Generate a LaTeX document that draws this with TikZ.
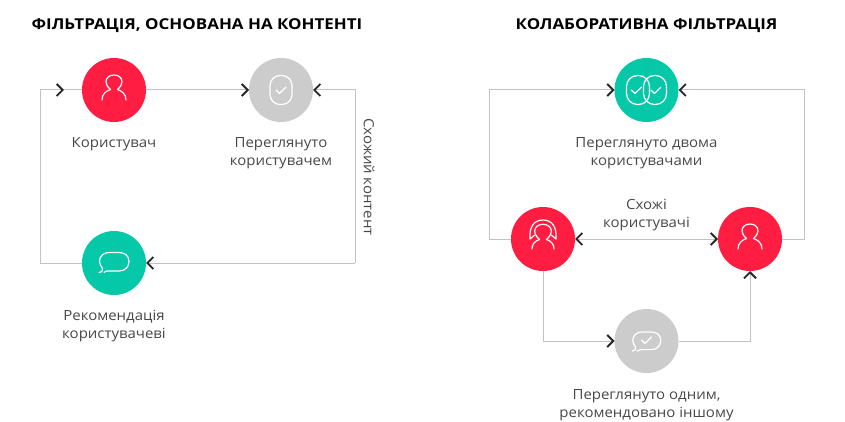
\documentclass[tikz,border=0pt]{standalone}
\usepackage{fontspec}
\setmainfont[FakeStretch=1.07]{Open Sans}
\newfontfamily\headfont[FakeStretch=1.13]{Open Sans}
\usepackage{xcolor}
\usetikzlibrary{arrows.meta}
\definecolor{redc}{HTML}{FF1E42}
\definecolor{tealc}{HTML}{05C8A8}
\definecolor{grayc}{HTML}{CCCCCC}
\definecolor{linec}{HTML}{C2C2C2}
\definecolor{tipc}{HTML}{262626}
\definecolor{textc}{HTML}{484848}
\tikzset{
  disc/.style={circle,minimum size=64pt,inner sep=0pt,outer sep=0pt},
  link/.style={draw=linec,line width=1pt},
  tip/.style={-{Straight Barb[length=6pt,width=12pt,line width=1.8pt,color=tipc]}},
  tipboth/.style={{Straight Barb[length=6pt,width=12pt,line width=1.8pt,color=tipc]}-{Straight Barb[length=6pt,width=12pt,line width=1.8pt,color=tipc]}},
  txt/.style={align=center,text=textc,font=\fontsize{14}{17.5}\selectfont},
  head/.style={align=center,text=black,font=\headfont\fontsize{15}{17}\selectfont\bfseries},
  ico/.style={draw=white,line width=1.2pt,line cap=round,line join=round},
  personicon/.pic={
    \draw[ico] (-3.5,-0.5) .. controls (-6.5,-3) and (-8,-6) .. (-8,-8) .. controls (-8,-12.5) and (-4.5,-15) .. (0,-15) .. controls (4.5,-15) and (8,-12.5) .. (8,-8) .. controls (8,-6) and (6.5,-3) .. (3.5,-0.5);
    \draw[ico] (-12,10) .. controls (-12,4) and (-8,1) .. (-3.5,-0.5);
    \draw[ico] (12,10) .. controls (12,4) and (8,1) .. (3.5,-0.5);
  },
  checkicon/.pic={
    \draw[ico] (-5,0) -- (-1.5,3.5) -- (5,-3);
  },
  shieldicon/.pic={
    \draw[ico,rounded corners=10pt] (-11,-14.5) rectangle (11,14.5);
    \pic at (0,0) {checkicon};
  },
  bubbleicon/.pic={
    \draw[ico] (-15,9.5) .. controls (-12.5,9.5) and (-11,8.5) .. (-11.5,5.5) .. controls (-13.5,3) and (-14.5,0) .. (-14.5,-2)
      .. controls (-14.5,-7) and (-10,-10.5) .. (-5,-10.5) -- (5,-10.5) .. controls (11,-10.5) and (15,-7) .. (15,-1.5)
      .. controls (15,4) and (11,8) .. (5,8) -- (-6,8) .. controls (-8,8) and (-9,8.5) .. (-10,9.5);
  },
  hairicon/.pic={
    \draw[ico] (-3.5,0.5) .. controls (-6,-1.5) and (-8.3,-5) .. (-8.3,-8) .. controls (-8.3,-12) and (-4.5,-14.7) .. (0,-14.7) .. controls (4.5,-14.7) and (8.3,-12) .. (8.3,-8) .. controls (8.3,-5) and (6,-1.5) .. (3.5,0.5);
    \draw[ico] (-11,10) .. controls (-11,5) and (-8,2) .. (-3.5,0.5);
    \draw[ico] (11,10) .. controls (11,5) and (8,2) .. (3.5,0.5);
    \draw[ico] (-8.3,-4) -- (-13,0) .. controls (-14,-12) and (-9,-19) .. (0,-19) .. controls (9,-19) and (14,-12) .. (13,0) -- (8.3,-4);
  }
}
\begin{document}
\begin{tikzpicture}[x=1pt,y=-1pt]
\useasboundingbox (0,0) rectangle (845,422);
% titles
\node[head] (titleleft) at (197,25.5) {ФІЛЬТРАЦІЯ, ОСНОВАНА НА КОНТЕНТІ};
\node[head] (titleright) at (646.5,25.5) {КОЛАБОРАТИВНА ФІЛЬТРАЦІЯ};
% left loop
\node[disc,fill=redc] (user) at (114,90) {};
\node[disc,fill=grayc] (seen) at (281,90) {};
\node[disc,fill=tealc] (recom) at (114,263) {};
\coordinate (userin) at (64,90);
\coordinate (leftbot) at (40,263);
\coordinate (lefttop) at (40,90);
\coordinate (seentop) at (355,90);
\coordinate (seenbot) at (355,263);
\draw[link,tip] (recom.west) -- (leftbot) -- (lefttop) -- (userin);
\draw[link] (userin) -- (user.west);
\draw[link,tip] (user.east) -- (seen.west);
\draw[link,tip] (seenbot) -- (seentop) -- (seen.east);
\draw[link,tip] (seenbot) -- (recom.east);
\pic at (114,90) {personicon};
\pic at (281,90) {shieldicon};
\pic at (114,263) {bubbleicon};
\node[txt] (userlabel) at (114,144) {Користувач};
\node[txt] (seenlabel) at (281,153) {Переглянуто\\користувачем};
\node[txt] (recomlabel) at (114,326) {Рекомендація\\користувачеві};
\node[txt,rotate=-90] (contentlabel) at (369,177) {Схожий контент};
% right loop
\node[disc,fill=tealc] (both) at (646.5,90) {};
\node[disc,fill=redc] (usera) at (543,239) {};
\node[disc,fill=redc] (userb) at (750,239) {};
\node[disc,fill=grayc] (one) at (646.5,341) {};
\coordinate (atop) at (489,90);
\coordinate (aside) at (489,239);
\coordinate (btop) at (804,90);
\coordinate (bside) at (804,239);
\coordinate (abot) at (543,341);
\coordinate (bbot) at (750,341);
\draw[link,tip] (usera.west) -- (aside) -- (atop) -- (both.west);
\draw[link,tip] (userb.east) -- (bside) -- (btop) -- (both.east);
\draw[link,tipboth] (usera.east) -- (userb.west);
\draw[link,tip] (usera.south) -- (abot) -- (one.west);
\draw[link,tip] (one.east) -- (bbot) -- (userb.south);
% double shield
\draw[ico,rounded corners=11pt] (626.5,75.5) rectangle (649.5,104.5);
\draw[ico,rounded corners=11pt] (643.5,75.5) rectangle (666.5,104.5);
\pic at (636.5,90) {checkicon};
\pic at (656,90) {checkicon};
\pic at (543,239) {hairicon};
\pic at (750,239) {personicon};
\pic at (646.5,342) [scale=0.95] {bubbleicon};
\pic at (646.5,340) {checkicon};
\node[txt] (bothlabel) at (646.5,153) {Переглянуто двома\\користувачами};
\node[txt] (similar) at (646.5,215) {Схожі\\користувачі};
\node[txt] (onelabel) at (646.5,405) {Переглянуто одним,\\рекомендовано іншому};
\end{tikzpicture}
\end{document}
